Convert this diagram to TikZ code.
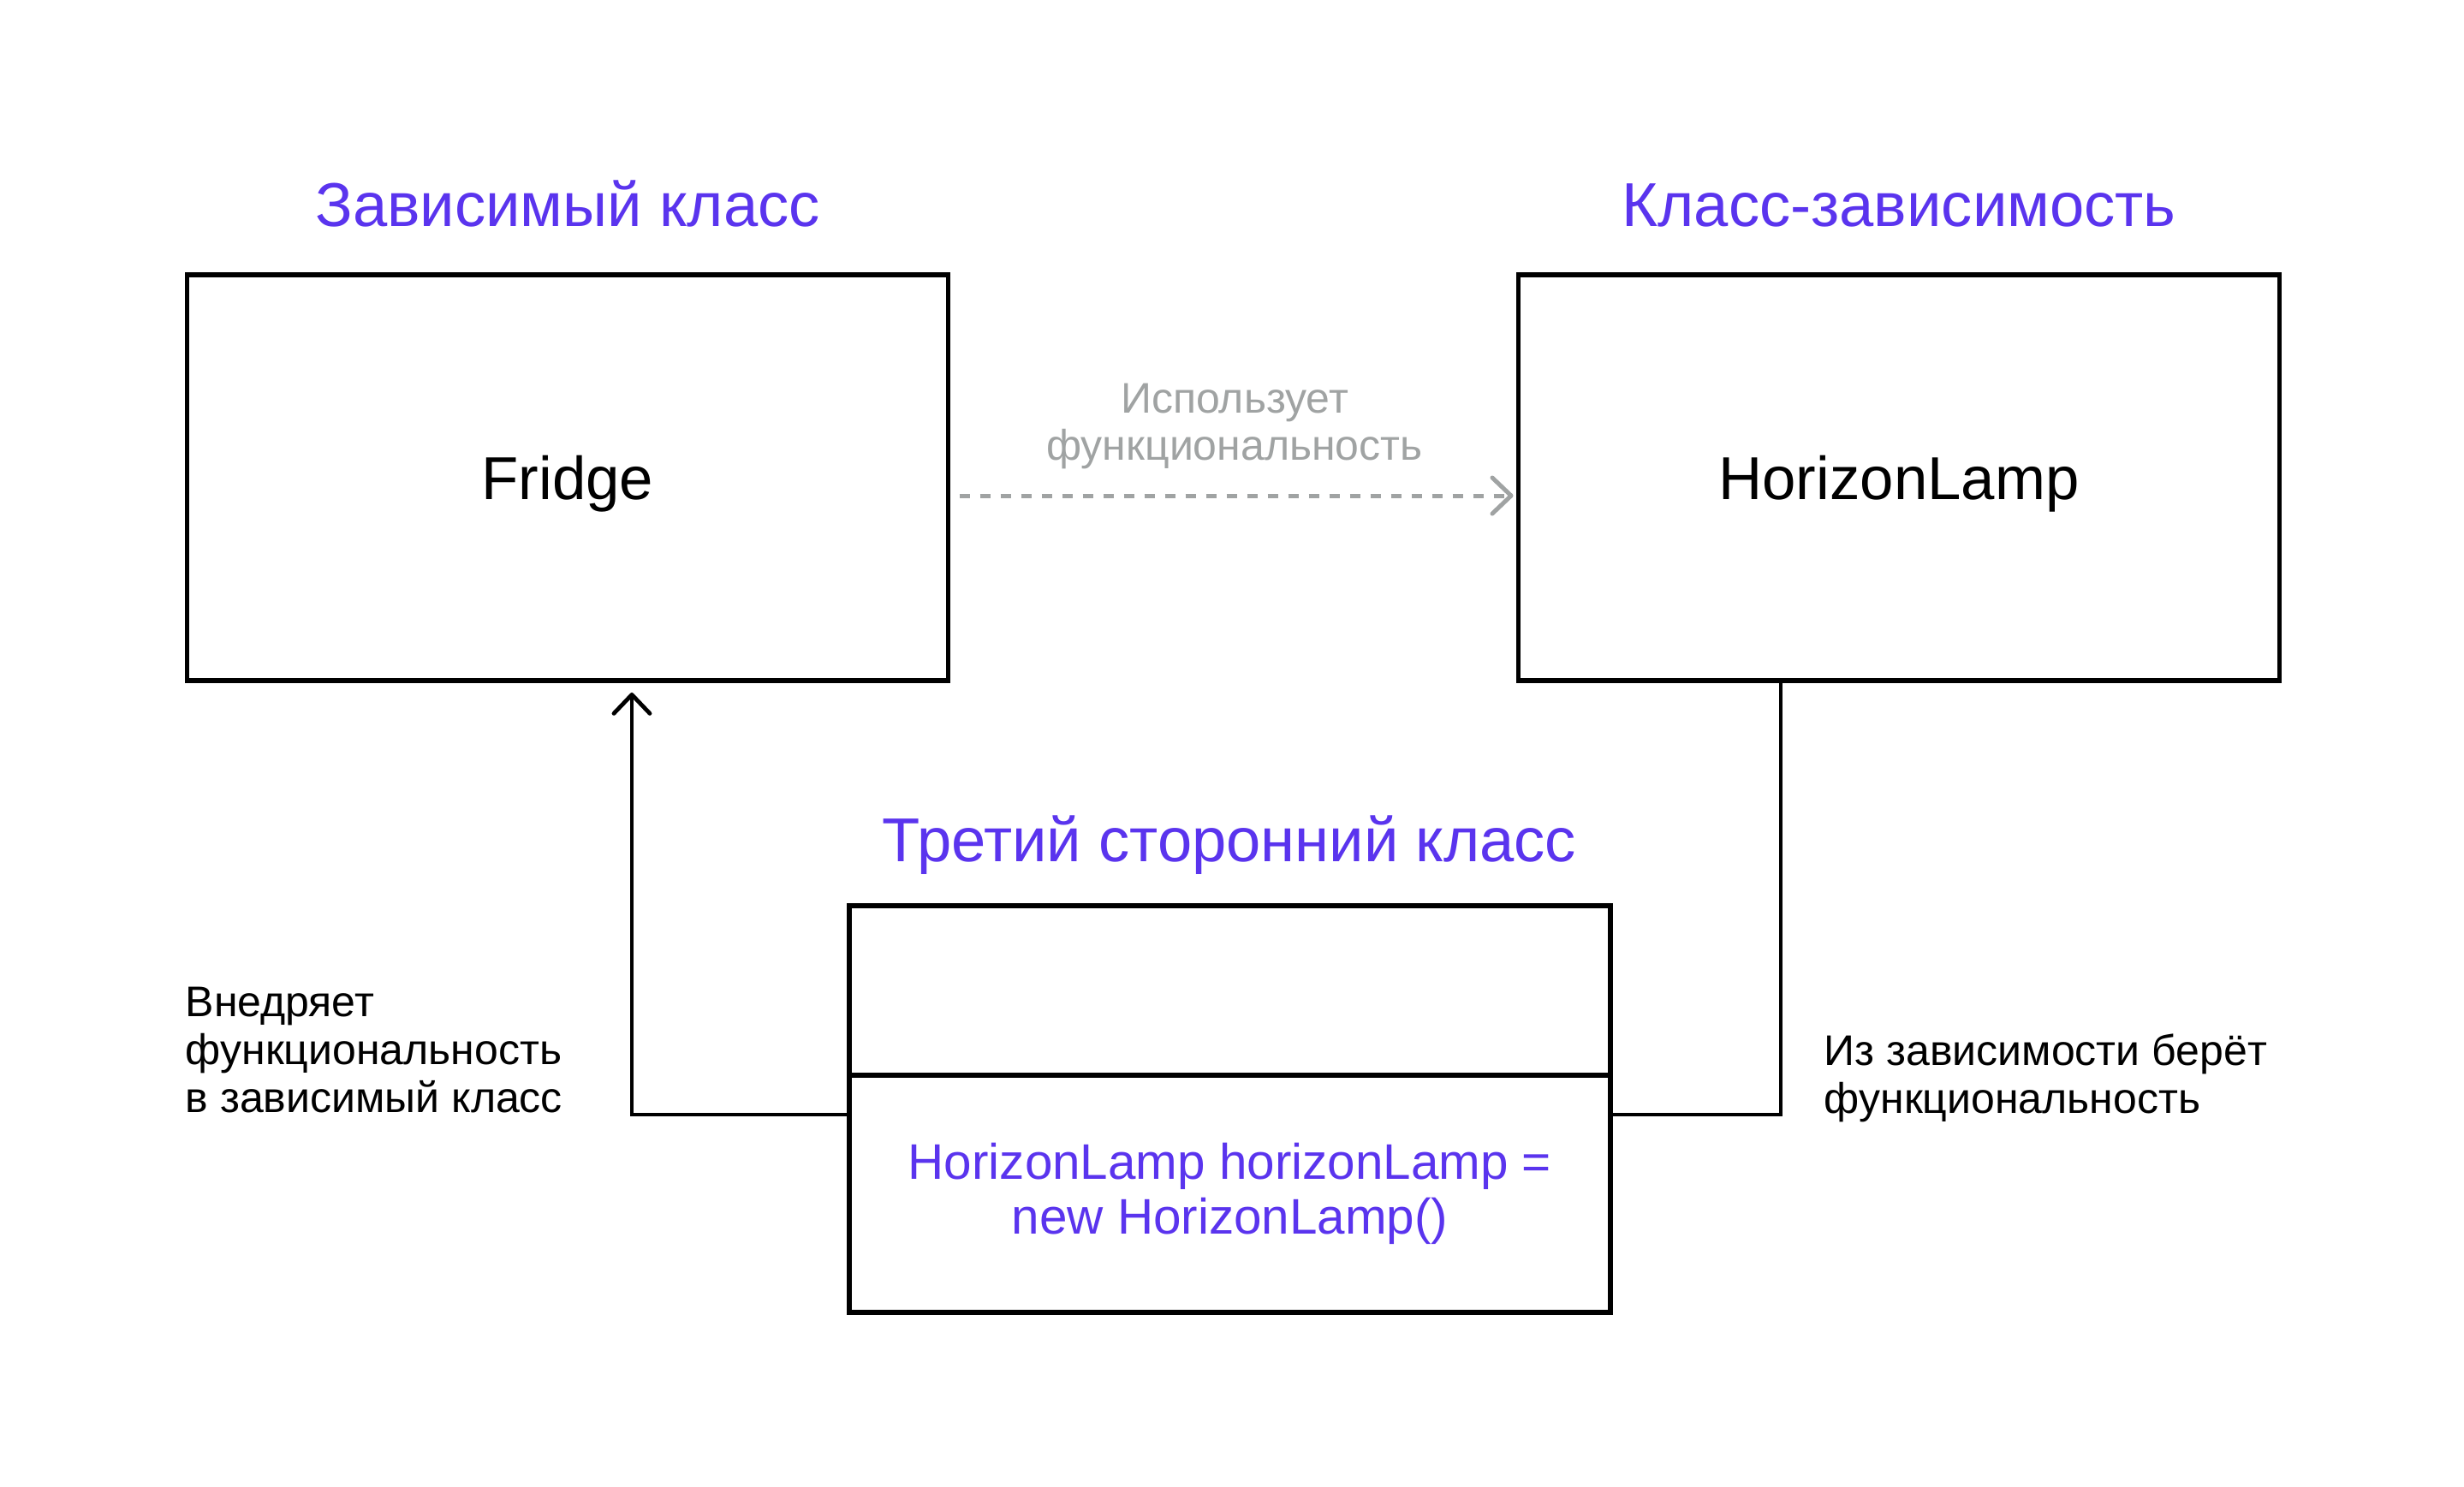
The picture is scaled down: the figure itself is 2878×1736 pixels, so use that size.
\documentclass[tikz,border=0pt]{standalone}
\usepackage{fontspec}
\setmainfont{Liberation Sans}
\usetikzlibrary{arrows.meta}
\definecolor{accent}{RGB}{90,52,238}
\definecolor{muted}{RGB}{160,163,163}
\begin{document}
\begin{tikzpicture}[x=0.25pt,y=-0.25pt,
  classbox/.style={draw=black,line width=1.3pt,rectangle,inner sep=0pt,outer sep=0pt,
    minimum width=222.25pt,font=\fontsize{17.7pt}{20pt}\selectfont},
  title/.style={anchor=base,inner sep=0pt,text=accent,font=\fontsize{18.1pt}{21pt}\selectfont},
  note/.style={anchor=base west,inner sep=0pt,align=left,font=\fontsize{12.5pt}{14pt}\selectfont},
  conn/.style={draw=black,line width=1.2pt},
  tip/.style={-{Straight Barb[length=5.5pt,width=10.5pt,round]}},
  usesline/.style={draw=muted,line width=1.25pt,dash pattern=on 3pt off 3pt},
]
\useasboundingbox (0,0) rectangle (2878,1736);
\fill[white] (0,0) rectangle (2878,1736);

\node[classbox,minimum height=118.5pt,text height=12.5pt,text depth=0pt] (fridge) at (663,558) {Fridge};
\node[classbox,minimum height=118.5pt,text height=12.5pt,text depth=0pt] (lamp) at (2218,558) {HorizonLamp};
\node[classbox,minimum height=49.5pt] (third) at (1436.5,1157) {};
\node[classbox,minimum height=69.25pt,text=accent,align=center,
  font=\fontsize{14.6pt}{16pt}\selectfont] (code) at (1436.5,1394.5)
  {HorizonLamp horizonLamp =\\new HorizonLamp()};

\node[title] (t1) at (663,264) {Зависимый класс};
\node[title] (t2) at (2218,264) {Класс-зависимость};
\node[title] (t3) at (1436,1006) {Третий сторонний класс};

\node[anchor=base,inner sep=0pt,align=center,text=muted,
  font=\fontsize{12.5pt}{13.75pt}\selectfont] (uses) at (1442,537)
  {Использует\\функциональность};

\node[note] (inject) at (216,1299) {Внедряет\\функциональность\\в зависимый класс};
\node[note] (takes) at (2130,1300) {Из зависимости берёт\\функциональность};

\coordinate (yd) at (0,579);
\coordinate (yl) at (0,1302);

\draw[usesline,-{Straight Barb[length=5.5pt,width=10.5pt,round,line width=1.25pt]},
  shorten <=3.25pt,shorten >=1.5pt] (fridge.east |- yd) -- (lamp.west |- yd);
\draw[conn,tip,shorten >=3.5pt] (code.west |- yl) -| ([xshift=18.75pt]fridge.south);
\draw[conn] (code.east |- yl) -| ([xshift=-34.5pt]lamp.south);
\end{tikzpicture}
\end{document}
